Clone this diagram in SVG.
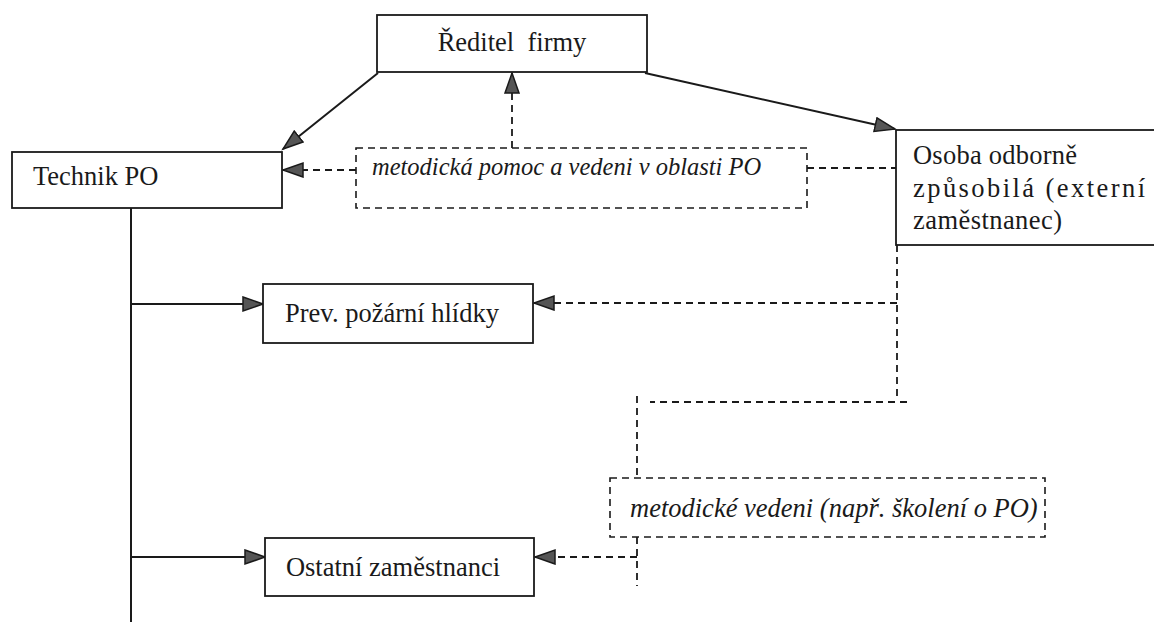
<svg xmlns="http://www.w3.org/2000/svg" width="1154" height="628" viewBox="0 0 1154 628">
<style>
.box{fill:#fff;stroke:#1a1a1a;stroke-width:1.8}
.dbox{fill:none;stroke:#1a1a1a;stroke-width:1.6;stroke-dasharray:7 5}
text{font-family:'Liberation Serif','Times New Roman','DejaVu Serif',serif;font-size:26.5px;fill:#1a1a1a}
.i{font-style:italic}
.ln{fill:none;stroke:#1a1a1a;stroke-width:2}
.dl{fill:none;stroke:#1a1a1a;stroke-width:1.8;stroke-dasharray:7 5}
</style>
<defs>
<marker id="ah" markerUnits="userSpaceOnUse" markerWidth="24" markerHeight="18" refX="21" refY="8" orient="auto">
<path d="M1,1 L21,8 L1,15 Z" fill="#555" stroke="#1a1a1a" stroke-width="1.5"/>
</marker>
</defs>
<rect width="1154" height="628" fill="#fff"/>
<g id="connectors">
<line class="ln" x1="378" y1="73" x2="283" y2="149" marker-end="url(#ah)"/>
<line class="ln" x1="645" y1="73" x2="895" y2="129" marker-end="url(#ah)"/>
<line class="dl" x1="512" y1="148" x2="512" y2="73" marker-end="url(#ah)"/>
<line class="dl" x1="356" y1="170" x2="283" y2="170" marker-end="url(#ah)"/>
<line class="dl" x1="807" y1="168" x2="896" y2="168"/>
<line class="ln" x1="131" y1="208" x2="131" y2="622"/>
<line class="ln" x1="131" y1="304" x2="263" y2="304" marker-end="url(#ah)"/>
<line class="ln" x1="131" y1="557" x2="265" y2="557" marker-end="url(#ah)"/>
<line class="dl" x1="897" y1="245" x2="897" y2="400"/>
<line class="dl" x1="897" y1="303" x2="534" y2="303" marker-end="url(#ah)"/>
<line class="dl" x1="907" y1="402" x2="650" y2="402"/>
<line class="dl" x1="637" y1="396" x2="637" y2="478"/>
<line class="dl" x1="637" y1="537" x2="637" y2="586"/>
<line class="dl" x1="637" y1="557" x2="535" y2="557" marker-end="url(#ah)"/>
</g>
<g id="reditel">
<rect class="box" x="377" y="15" width="270" height="57"/>
<text x="512" y="51" text-anchor="middle" xml:space="preserve">Ředitel  firmy</text>
</g>
<g id="technik">
<rect class="box" x="12" y="152" width="270" height="56"/>
<text x="33" y="185">Technik PO</text>
</g>
<g id="metodicka-pomoc">
<rect class="dbox" x="356" y="148" width="451" height="60"/>
<text class="i" x="372" y="175" style="font-size:24.5px">metodická pomoc a vedeni v oblasti PO</text>
</g>
<g id="osoba">
<rect class="box" x="896" y="130" width="270" height="115"/>
<text x="913" y="164" textLength="164">Osoba odborně</text>
<text x="913" y="197" textLength="232">způsobilá (externí</text>
<text x="913" y="229" textLength="149">zaměstnanec)</text>
</g>
<g id="hlidky">
<rect class="box" x="263" y="284" width="270" height="59"/>
<text x="392" y="322" text-anchor="middle">Prev. požární hlídky</text>
</g>
<g id="metodicke-vedeni">
<rect class="dbox" x="610" y="478" width="435" height="59"/>
<text class="i" x="630" y="517">metodické vedeni (např. školení o PO)</text>
</g>
<g id="ostatni">
<rect class="box" x="265" y="538" width="269" height="58"/>
<text x="393" y="576" text-anchor="middle">Ostatní zaměstnanci</text>
</g>
</svg>
